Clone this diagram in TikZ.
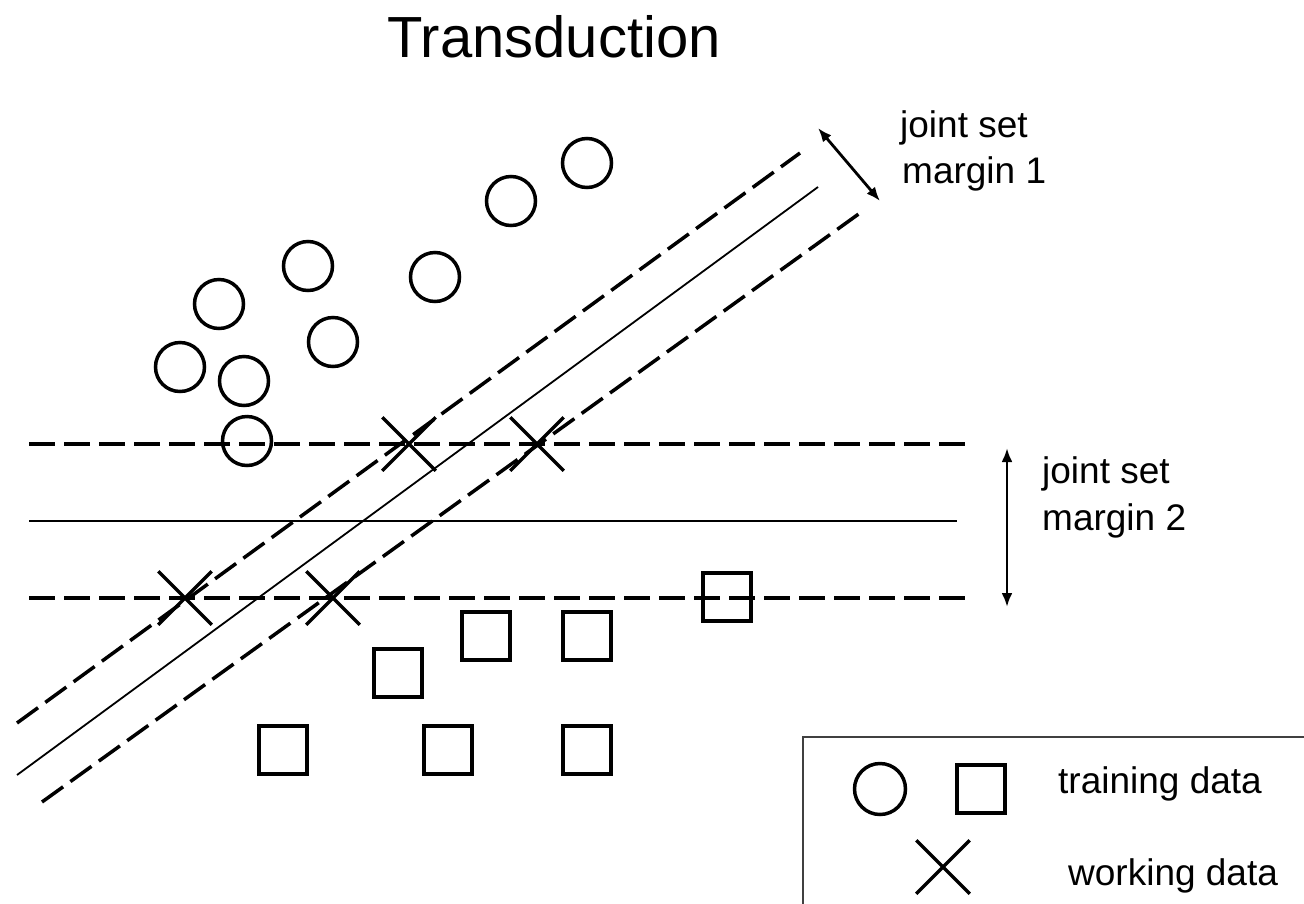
\documentclass[tikz,border=0pt]{standalone}
\usepackage{fontspec}
\setmainfont{Liberation Sans}
\usetikzlibrary{shapes.misc,arrows.meta}
\begin{document}
\begin{tikzpicture}[x=1pt,y=-1pt,
  dot/.style={circle,draw,line width=3.5pt,minimum size=49pt,inner sep=0pt},
  box/.style={rectangle,draw,line width=4pt,minimum size=48pt,inner sep=0pt},
  cross/.style={cross out,draw,line width=3.5pt,minimum size=50pt,inner sep=0pt},
  bound/.style={line width=3.5pt,dash pattern=on 26pt off 9pt},
  sep/.style={line width=2.2pt},
  dim/.style={line width=2.8pt,{Latex[length=14pt,width=11pt]}-{Latex[length=14pt,width=11pt]}},
  lab/.style={anchor=base west,inner sep=0pt,font=\fontsize{37}{44}\selectfont},
]
\useasboundingbox (0,0) rectangle (1304,903);
\fill[white] (0,0) rectangle (1304,903);

% title
\node[anchor=base,inner sep=0pt,font=\fontsize{58}{64}\selectfont] (title) at (554,57) {Transduction};

% separator 1: oblique hyperplane and its margins
\coordinate (d1a) at (17,723);  \coordinate (d1b) at (800,153);
\coordinate (d0a) at (17,775);  \coordinate (d0b) at (818,187);
\coordinate (d2a) at (42,802);  \coordinate (d2b) at (860,213);
\draw[bound] (d1a) -- (d1b);
\draw[line width=1.8pt] (d0a) -- (d0b);
\draw[bound] (d2a) -- (d2b);

% separator 2: horizontal hyperplane and its margins
\coordinate (h1a) at (29,444);  \coordinate (h1b) at (965,444);
\coordinate (h0a) at (29,521);  \coordinate (h0b) at (957,521);
\coordinate (h2a) at (29,598);  \coordinate (h2b) at (965,598);
\draw[bound] (h1a) -- (h1b);
\draw[sep] (h0a) -- (h0b);
\draw[bound] (h2a) -- (h2b);

% training data, first class
\node[dot] (c1) at (180,367) {};
\node[dot] (c2) at (219,304) {};
\node[dot] (c3) at (308,266) {};
\node[dot] (c4) at (333,342) {};
\node[dot] (c5) at (244,381) {};
\node[dot] (c6) at (435,277) {};
\node[dot] (c7) at (511,201) {};
\node[dot] (c8) at (587,163) {};
\node[dot] (c9) at (247,441) {};

% training data, second class
\node[box] (s1) at (727,597) {};
\node[box] (s2) at (486,636) {};
\node[box] (s3) at (587,636) {};
\node[box] (s4) at (398,673) {};
\node[box] (s5) at (283,750) {};
\node[box] (s6) at (448,750) {};
\node[box] (s7) at (587,750) {};

% working data
\node[cross] (x1) at (409,444) {};
\node[cross] (x2) at (537,444) {};
\node[cross] (x3) at (185,598) {};
\node[cross] (x4) at (333,598) {};

% margin widths
\coordinate (m1a) at (818,128); \coordinate (m1b) at (880,201);
\draw[dim] (m1a) -- (m1b);
\node[lab] (m1t1) at (900,137) {joint set};
\node[lab] (m1t2) at (902,183) {margin 1};

\coordinate (m2a) at (1007,448); \coordinate (m2b) at (1007,607);
\draw[dim] (m2a) -- (m2b);
\node[lab] (m2t1) at (1042,483) {joint set};
\node[lab] (m2t2) at (1042,530) {margin 2};

% legend
\draw[line width=2.2pt,draw=black!75] (803,915) -- (803,737) -- (1315,737);
\node[dot,minimum size=51pt] (lc) at (880,789) {};
\node[box] (ls) at (981,789) {};
\node[cross] (lx) at (943,867) {};
\node[lab] (lt1) at (1058,793) {training data};
\node[lab] (lt2) at (1068,885) {working data};
\end{tikzpicture}
\end{document}
